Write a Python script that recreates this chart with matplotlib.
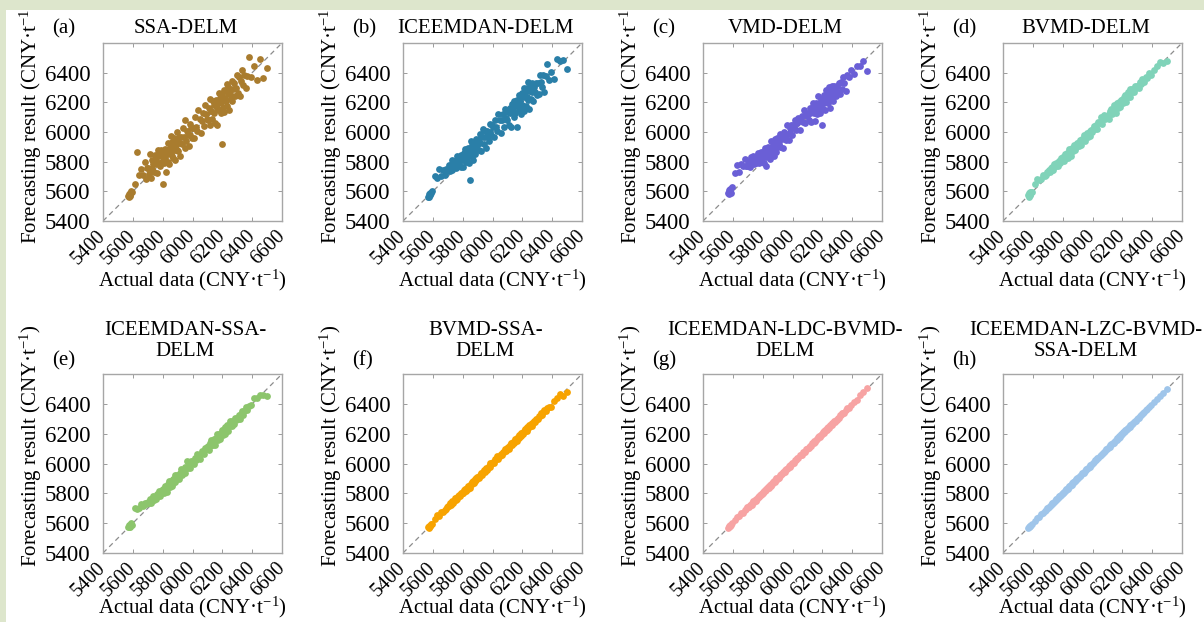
import matplotlib
matplotlib.use("Agg")
import matplotlib.pyplot as plt
from matplotlib.patches import Rectangle
import numpy as np

plt.rcParams['font.family'] = ['Liberation Serif', 'DejaVu Serif']
plt.rcParams['mathtext.fontset'] = 'custom'
plt.rcParams['mathtext.rm'] = 'Liberation Serif'
plt.rcParams['mathtext.it'] = 'Liberation Serif:italic'

# ---------------- data ----------------
actual = [
    5568, 5572, 5575, 5578, 5580, 5583, 5587, 5592,
    5612, 5628, 5641, 5655, 5668, 5679, 5688, 5697,
    5703, 5709, 5714, 5720, 5726, 5731, 5737, 5742, 5748, 5753,
    5758, 5763, 5768, 5773, 5778, 5782, 5787, 5791, 5795, 5799,
    5801, 5804, 5809, 5813, 5816, 5821, 5825, 5828, 5833, 5837, 5841, 5844, 5849,
    5853, 5856, 5861, 5865, 5868, 5872, 5877, 5881, 5884, 5889, 5892, 5896, 5899,
    5903, 5908, 5914, 5919, 5925, 5931, 5936, 5942, 5947,
    5953, 5958, 5964, 5969, 5975, 5981, 5986, 5992, 5997,
    6004, 6011, 6018, 6026, 6033, 6040, 6048, 6055, 6062, 6070, 6077, 6085, 6092, 6098,
    6104, 6109, 6115, 6120, 6126, 6131, 6136, 6141, 6146, 6151,
    6156, 6161, 6166, 6170, 6175, 6180, 6184, 6189, 6193, 6197,
    6201, 6205, 6209, 6213, 6217, 6221, 6225, 6229, 6233, 6237, 6241,
    6245, 6249, 6253, 6257, 6262, 6267, 6272, 6277, 6283, 6289, 6295,
    6302, 6309, 6317, 6324, 6331, 6339, 6347, 6356, 6366, 6378, 6391,
    6412, 6433, 6452, 6474, 6502,
]

# forecast error (forecast - actual) read per panel
err_a = [
    2, -8, 10, -4, 6, -12, 15, 5,
    35, 235, 70, 95, 40, 120, -5, 60,
    55, 10, 140, -30, 25, 80, 45, -15, 95, 30, 60, -40, 110, 20, 70, -10, 50, 85, 5, 35,
    -150, 40, -20, 75, 10, -90, 55, 25, -35, 90, 15, -60, 45, 5, 120, -25, 65, 30, -45, 80, 0, -75, 50, 20, -15, 100,
    -30, 60, 15, -80, 40, -10, 90, 25, -55, 130, -20, 45, 10, -70, 70, -5, 35, -40,
    20, -50, 80, 5, -25, 110, 40, -65, 15, 60, -35, 95, 30, -10,
    -20, 50, -70, 105, 15, -45, 70, -10, 35, -90, 60, 0, -120, 25, 85, -30, 45, -60, 10, -280,
    40, -35, 75, -80, 10, 55, -15, 95, -55, 25, 65, -100, 5, 40, -25, 80, -60, 20, 50, -40, 10, 90,
    -40, 60, -75, 20, 85, -25, 40, -60, 10, 130, -20,
    30, -80, 40, -110, -70,
]
err_b = [
    -5, 8, -10, 3, 12, -6, 0, 7,
    90, 60, 110, 45, 75, 30, 65, 40,
    40, 70, 20, 55, 85, 10, 45, 65, 25, 50, 0, 75, 35, 60, 15, 40, -20, 55, 30, 10,
    20, -40, 50, 5, 70, -25, 35, -10, 60, 15, -50, 40, -170, 25, 80, -20, 45, 0, -60, 55, 20, -35, 65, -15, 30, 10,
    45, -30, 70, 10, -50, 35, 85, -20, 20, 55, -65, 40, 5, -35, 75, 15, -10, 50,
    30, -45, 60, 10, -25, 80, 35, -60, 20, 50, -40, 70, 5, -20,
    30, -60, 45, 10, -90, 55, 20, -40, 65, -25, 35, -130, 50, 5, 75, -35, 25, -70, 40, -15,
    60, -30, 85, -70, 20, 45, -50, 70, 5, -20, 95, -90, 30, 50, -35, 10, 65, -60, 25, -10, 40, -45,
    30, -50, 65, 10, -30, 45, -75, 20, 95, -30, 15,
    -55, 60, 30, 10, -75,
]
err_c = [
    20, 35, 10, 25, 15, 30, 5, 40,
    110, 150, 90, 130, 100, 140, 85, 75,
    80, 95, 50, 110, 70, 60, 100, 40, 85, 55, 30, 75, 90, 20, 65, 45, 80, 10, 50, 35,
    30, 60, -20, 45, 75, 10, -55, 40, 20, 65, 0, 50, -30, 35, 85, 15, -10, 55, 25, -40, 70, 5, 45, -25, 30, 60,
    40, 10, 70, -20, 50, 25, -45, 60, 15, 35, -10, 80, 20, -30, 45, 5, 55, -15,
    40, 15, 60, -10, 30, 55, -35, 20, 45, 0, 70, -25, 35, 10,
    20, -30, 45, 5, -60, 30, 60, -15, 10, -80, 40, -40, 25, 70, -20, 15, -55, 35, -10, -150,
    10, -50, 40, -20, 25, -70, 55, -10, 30, -40, 5, 60, -90, 20, -30, 45, -15, -60, 35, 0, -45, 15,
    -30, 20, -60, 10, -40, 35, -20, -80, 15, -5, 30,
    -20, 10, -10, 5, -90,
]
err_d = [
    5, -8, 12, 0, 15, -5, 10, 3,
    40, 55, 35, 30, 45, 25, 20, 35,
    25, 35, 15, 40, 20, 30, 10, 45, 25, 15, 35, 20, 5, 30, 25, 10, 40, 15, 20, 30,
    15, 25, -5, 20, 35, 10, 0, 30, 15, -10, 25, 40, 5, 20, -15, 30, 10, 25, 0, 35, 15, -5, 20, 10, 30, 5,
    20, 0, 30, 10, -10, 25, 15, 35, -5, 20, 10, 30, 0, 15, 25, -10, 20, 5,
    15, 30, 0, 20, -15, 25, 10, 45, -5, 20, 35, 0, 15, 10,
    10, -20, 25, 5, 30, -10, 15, 40, 0, 20, -25, 35, 10, -5, 25, 15, -15, 30, 5, 20,
    15, -10, 25, 0, 35, 10, -20, 20, 5, 30, -5, 15, 40, -15, 10, 25, 0, 20, -10, 30, 5, 15,
    10, -15, 20, 0, 25, 5, -10, 15, 0, 20, -5,
    5, 15, 20, -10, -25,
]
err_e = [
    5, 0, 10, -5, 8, 2, 12, -3,
    90, 70, 60, 75, 45, 55, 40, 35,
    40, 25, 50, 15, 35, 20, 45, 10, 30, 25, 5, 35, 15, 40, 20, 0, 25, 10, 30, 15,
    10, 25, -10, 20, 35, 0, 15, -20, 30, 5, 20, 40, -5, 15, 25, -15, 10, 30, 0, 20, 45, -10, 15, 5, 25, 10,
    15, -10, 25, 5, 40, -5, 20, 10, 30, -15, 15, 50, 0, 20, -10, 10, 25, 5,
    10, -15, 20, 0, 30, 15, -20, 10, 25, 0, -10, 20, 5, 15,
    10, -20, 20, 0, 30, 5, -15, 25, 10, -25, 15, 0, 35, -10, 20, 5, -20, 15, 0, 25,
    5, -15, 20, 0, 25, -20, 10, 30, -5, 15, -25, 10, 35, 0, 20, -10, 15, 5, -15, 25, 0, 10,
    -5, 15, -20, 10, 20, -15, 5, 25, -10, 10, 0,
    25, 5, 10, -15, -50,
]
err_f = [
    3, -2, 6, 0, 4, -5, 8, 2,
    15, 25, 10, 20, 8, 12, 5, 10,
    12, 5, 18, 0, 10, 15, -5, 8, 20, 3, 12, -3, 15, 6, 10, -2, 14, 4, 9, 0,
    8, -5, 12, 2, 16, -8, 6, 10, -3, 14, 0, 8, -10, 12, 4, 18, -4, 6, 10, -6, 15, 2, -2, 9, 5, 12,
    5, -8, 10, 0, 14, -5, 8, 16, -2, 6, 12, -10, 4, 10, -4, 15, 2, 7,
    6, -6, 10, 2, 15, -8, 5, 12, -2, 8, 0, 14, -5, 4,
    5, -10, 8, 0, 12, -5, 10, 3, -8, 15, 2, -12, 6, 10, -3, 8, 0, -6, 12, 4,
    6, -8, 10, 0, 14, -4, 8, -10, 12, 2, -6, 16, 4, -2, 10, -12, 6, 0, 8, -5, 12, 2,
    -5, 10, 0, 14, -8, 6, 12, -4, 8, 2, -10,
    10, 5, 15, -20, -20,
]
err_g = [
    2, 6, 0, 4, -2, 5, 3, 8,
    8, 12, 5, 10, 3, 7, 6, 9,
    5, 0, 8, 3, -2, 6, 10, 2, 4, -3, 7, 1, 5, 9, 0, 4, 6, -1, 3, 7,
    4, -3, 6, 1, 8, -2, 3, 5, 0, 7, -4, 2, 6, -1, 9, 3, -2, 5, 1, 4, -3, 6, 0, 8, 2, -1,
    3, -4, 6, 0, 5, -2, 8, 1, -3, 4, 7, -1, 2, 6, -5, 3, 0, 5,
    2, -5, 6, 0, 4, -3, 8, 1, -2, 5, 3, -6, 7, 0,
    3, -4, 5, 0, -6, 7, 2, -2, 6, -8, 4, 1, -5, 8, 0, 3, -3, 5, -1, 2,
    -3, 5, -6, 2, 7, -4, 0, 6, -8, 3, 1, -5, 8, -2, 4, -7, 2, 0, 6, -4, 3, -1,
    4, -5, 6, -2, 8, 0, -6, 3, 5, -3, 2,
    3, -4, 5, 6, 2,
]
err_h = [
    0, 2, -1, 3, 1, -2, 2, 0,
    3, 5, 2, 4, 1, 3, 2, 4,
    2, 0, 3, -1, 2, 4, 1, -2, 3, 0, 2, 1, -1, 3, 2, 0, 4, 1, -2, 2,
    1, -2, 3, 0, 2, -1, 4, 1, -3, 2, 0, 3, -1, 2, 1, -2, 3, 0, 2, -1, 4, 1, -2, 3, 0, 1,
    2, -1, 3, 0, -2, 4, 1, -3, 2, 0, 3, -1, 1, 2, -2, 3, 0, 1,
    1, -2, 3, 0, 2, -3, 4, 1, -1, 2, 0, -2, 3, 1,
    0, 2, -3, 1, 3, -1, 2, -4, 0, 3, 1, -2, 4, 0, -1, 2, -3, 1, 3, 0,
    -2, 3, 0, -3, 4, 1, -1, 2, -4, 3, 0, 1, -2, 4, -1, 2, 0, -3, 3, 1, -1, 2,
    1, -3, 2, 0, 4, -2, 1, 3, -1, 2, 0,
    2, -2, 3, 1, 0,
]

title_lines = [["SSA-DELM"], ["ICEEMDAN-DELM"], ["VMD-DELM"], ["BVMD-DELM"],
               ["ICEEMDAN-SSA-", "DELM"], ["BVMD-SSA-", "DELM"],
               ["ICEEMDAN-LDC-BVMD-", "DELM"], ["ICEEMDAN-LZC-BVMD-", "SSA-DELM"]]
panel_labels = ["(a)", "(b)", "(c)", "(d)", "(e)", "(f)", "(g)", "(h)"]
colors = ["#a97c2e", "#2a7fa8", "#6a5fd6", "#80d3b9",
          "#8cc56c", "#f7a300", "#f7a3a3", "#9fc5ea"]
errors = [err_a, err_b, err_c, err_d, err_e, err_f, err_g, err_h]

lims = [5400, 6600]
xticks = [5400, 5600, 5800, 6000, 6200, 6400, 6600]
yticks = [5400, 5600, 5800, 6000, 6200, 6400]
xlabel = "Actual data (CNY·t$^{-1}$)"
ylabel = "Forecasting result (CNY·t$^{-1}$)"

# ---------------- figure ----------------
W, H = 1204, 622
fig = plt.figure(figsize=(W / 100, H / 100), dpi=100)
fig.patch.set_facecolor("white")

FS = 15
lefts = [103, 403, 703, 1003]
rows = [(43, 221), (374, 553)]
act = np.array(actual, dtype=float)

for i in range(8):
    r, c = divmod(i, 4)
    top, bot = rows[r]
    L = lefts[c]
    h = bot - top
    ax = fig.add_axes([L / W, (H - bot) / H, 179 / W, h / H])
    fc = act + np.array(errors[i], dtype=float)
    ax.plot(lims, lims, linestyle=(0, (4, 3)), color="#8c8c8c", lw=0.9, zorder=1)
    ax.scatter(act, fc, s=24, color=colors[i], linewidths=0, zorder=2)
    ax.set_xlim(lims)
    ax.set_ylim(lims)
    ax.set_xticks(xticks)
    ax.set_yticks(yticks)
    ax.set_yticklabels([str(v) for v in yticks], fontsize=16.5)
    ax.set_xticklabels([str(v) for v in xticks], fontsize=14.5, rotation=45,
                       ha="right", va="center", rotation_mode="anchor")
    ax.tick_params(direction="in", top=True, right=True, length=3, width=0.6,
                   color="#8c8c8c", labelcolor="black")
    ax.tick_params(axis="x", pad=9)
    ax.tick_params(axis="y", pad=9)
    for sp in ax.spines.values():
        sp.set_color("#a6a6a6")
        sp.set_linewidth(1.0)
    ax.set_xlabel(xlabel, fontsize=FS)
    ax.xaxis.set_label_coords(0.5, -0.26 if r == 0 else -0.235)
    ax.set_ylabel(ylabel, fontsize=FS)
    ax.yaxis.set_label_coords(-0.33, 0.55 if r == 0 else 0.60)
    # title (one text per line)
    lines = title_lines[i]
    base = 10 if r == 0 else 18
    for k, line in enumerate(reversed(lines)):
        ax.text(0.46, 1 + (base + 21 * k) / h, line, transform=ax.transAxes,
                ha="center", va="baseline", fontsize=FS)
    # panel label
    ax.text(-51 / 179, 1 + (10 if r == 0 else 9) / h, panel_labels[i],
            transform=ax.transAxes, ha="left", va="baseline", fontsize=FS)

bg = "#dde6cc"
fig.add_artist(Rectangle((0, 1 - 10 / H), 1, 10 / H, transform=fig.transFigure,
                         facecolor=bg, edgecolor="none", zorder=10))
fig.add_artist(Rectangle((0, 0), 6 / W, 1, transform=fig.transFigure,
                         facecolor=bg, edgecolor="none", zorder=10))

fig.savefig("out.png", dpi=100)
